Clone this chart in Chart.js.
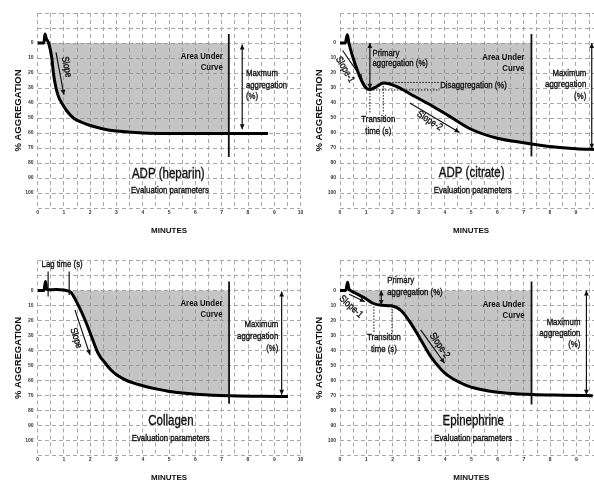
<!DOCTYPE html>
<html>
<head>
<meta charset="utf-8">
<script src="https://cdn.jsdelivr.net/npm/chart.js@4.4.1/dist/chart.umd.min.js"></script>
<style>
  html, body { margin: 0; padding: 0; background: #fff; }
  body { width: 594px; height: 480px; overflow: hidden; position: relative; }
  canvas { position: absolute; }
</style>
</head>
<body>
<canvas id="heparin" width="310" height="240" style="left:0;top:0"></canvas>
<canvas id="citrate" width="310" height="240" style="left:297px;top:0"></canvas>
<canvas id="collagen" width="310" height="250" style="left:0;top:240px"></canvas>
<canvas id="epinephrine" width="310" height="250" style="left:297px;top:240px"></canvas>
<script>
'use strict';

// aggregation curves (minutes / % aggregation)
var minutesHeparin = [0, 0.24, 0.28, 0.33, 0.42, 0.54, 0.6, 0.7, 0.8, 0.92, 1.1, 1.36, 1.7, 2.0, 2.5, 3.0, 4.0, 5.0, 7.3, 8.76];
var aggHeparin     = [0, 0, -6, -3, 0, 10, 20, 30, 36, 40, 45, 50, 53, 55, 57.3, 58.7, 60, 60.3, 60.3, 60.3];

var minutesCitrate = [0, 0.2, 0.28, 0.31, 0.34, 0.5, 0.7, 0.82, 0.99, 1.14, 1.4, 1.65, 2.15, 2.66, 3.42, 4.18, 5.0, 6.0, 7.0, 7.3, 8.0, 9.0, 9.8];
var aggCitrate     = [0, 0, -5.5, -3, 0, 10, 20, 25, 30, 31, 29, 26.7, 28.9, 33.8, 41, 48.9, 57.5, 63.5, 66.5, 67.3, 69, 70.5, 71];

var minutesCollagen = [0, 0.24, 0.3, 0.35, 0.42, 0.7, 1.0, 1.2, 1.29, 1.54, 1.8, 2.05, 2.3, 2.62, 2.8, 3.0, 3.3, 3.63, 4.0, 4.5, 4.96, 6.16, 7.3, 8.5, 9.52];
var aggCollagen     = [0, 0, -6, -1, -0.5, -0.6, -0.3, 0.5, 1.8, 9.6, 19.5, 30.7, 41.8, 49.5, 53.2, 56.2, 59.2, 61.6, 63.5, 65.6, 67.1, 69.3, 70.2, 70.5, 70.7];

var minutesEpi = [0, 0.22, 0.29, 0.34, 0.4, 0.56, 0.94, 1.25, 1.57, 1.95, 2.33, 2.71, 3.09, 3.47, 3.85, 4.1, 4.43, 4.8, 5.19, 6.2, 7.3, 8.5, 9.62];
var aggEpi     = [0, 0, -5.5, -1, 0, 1.5, 5, 8.5, 9.8, 10.2, 13.5, 22.2, 33.3, 44.4, 52.6, 56.6, 60.2, 63.2, 65.3, 68.2, 69.3, 69.8, 70.2];

// area under curve: from start of aggregation up to the cut-off line
var shadeStart = [0.42, 0.34, 1.2, 0.4];
var aucEnd = 7.3;

var xTickLabels = [0, 1, 2, 3, 4, 5, 6, 7, 8, 9, 10];
var yTickLabels = [0, 10, 20, 30, 40, 50, 60, 70, 80, 90, 100];

var FONT = '"Liberation Sans", Arial, sans-serif';
var INK = '#111';
var SQUEEZE = 0.82; // the figure is squashed sideways

function toPoints(xs, ys) {
  return xs.map(function(x, i) { return {x: x, y: ys[i]}; });
}

function arrowHead(ctx, x1, y1, x2, y2) {
  var a = Math.atan2(y2 - y1, x2 - x1), len = 5, w = 2.4;
  ctx.beginPath();
  ctx.moveTo(x2, y2);
  ctx.lineTo(x2 - len * Math.cos(a) + w * Math.sin(a), y2 - len * Math.sin(a) - w * Math.cos(a));
  ctx.lineTo(x2 - len * Math.cos(a) - w * Math.sin(a), y2 - len * Math.sin(a) + w * Math.cos(a));
  ctx.closePath();
  ctx.fill();
}

// text and arrows placed in data units
var notesPlugin = {
  id: 'notes',
  afterDatasetsDraw: function(chart, args, opts) {
    var ctx = chart.ctx, sx = chart.scales.x, sy = chart.scales.y;
    ctx.save();
    ctx.fillStyle = INK;
    ctx.strokeStyle = INK;
    (opts.items || []).forEach(function(it) {
      if (it.kind === 'line') {
        var x1 = sx.getPixelForValue(it.x1), y1 = sy.getPixelForValue(it.y1);
        var x2 = sx.getPixelForValue(it.x2), y2 = sy.getPixelForValue(it.y2);
        ctx.lineWidth = it.width || 1.2;
        ctx.setLineDash(it.dash || []);
        ctx.beginPath();
        ctx.moveTo(x1, y1);
        ctx.lineTo(x2, y2);
        ctx.stroke();
        ctx.setLineDash([]);
        if (it.head === 'end' || it.head === 'both') arrowHead(ctx, x1, y1, x2, y2);
        if (it.head === 'both') arrowHead(ctx, x2, y2, x1, y1);
      } else {
        var px = sx.getPixelForValue(it.x), py = sy.getPixelForValue(it.y);
        ctx.save();
        ctx.translate(px, py);
        if (it.rot) ctx.rotate(it.rot * Math.PI / 180);
        ctx.scale(SQUEEZE, 1);
        ctx.font = (it.bold ? 'bold ' : '') + (it.size || 9.5) + 'px ' + FONT;
        ctx.textAlign = it.align || 'center';
        ctx.textBaseline = 'middle';
        ctx.lineWidth = 0.35;
        it.lines.forEach(function(s, i) {
          ctx.fillText(s, 0, i * (it.lh || 11));
          if (!it.bold) ctx.strokeText(s, 0, i * (it.lh || 11));
        });
        ctx.restore();
      }
    });
    ctx.restore();
  }
};

function makePanel(id, xs, ys, start, cfg) {
  var curve = toPoints(xs, ys);
  var shade = curve.filter(function(p) { return p.x >= start && p.x <= aucEnd; });

  return new Chart(document.getElementById(id), {
    type: 'line',
    data: {
      datasets: [
        {
          data: curve,
          borderColor: '#000',
          borderWidth: 3,
          pointRadius: 0,
          cubicInterpolationMode: 'monotone',
          fill: false
        },
        {
          data: shade,
          borderWidth: 0,
          borderColor: 'rgba(0,0,0,0)',
          backgroundColor: 'rgba(140,140,140,0.5)',
          pointRadius: 0,
          cubicInterpolationMode: 'monotone',
          fill: 'origin',
          order: 1
        }
      ]
    },
    plugins: [notesPlugin],
    options: {
      responsive: false,
      animation: false,
      layout: {padding: cfg.padding},
      plugins: {
        legend: {display: false},
        tooltip: {enabled: false},
        notes: {items: cfg.notes}
      },
      scales: {
        x: {
          type: 'linear',
          min: 0,
          max: 10,
          afterFit: function(s) { s.height = cfg.xH; },
          grid: {color: '#a8a8a8', lineWidth: 1, drawTicks: false},
          border: {display: false, dash: [4, 3]},
          ticks: {
            stepSize: 0.5,
            autoSkip: false,
            maxRotation: 0,
            padding: cfg.xTickPad,
            color: '#333',
            font: {family: FONT, size: 5, weight: 'bold'},
            callback: function(v) { return xTickLabels.indexOf(v) >= 0 ? String(v) : ''; }
          },
          title: {
            display: true,
            text: 'MINUTES',
            color: INK,
            font: {family: FONT, size: 8, weight: 'bold'},
            padding: {top: 0, bottom: cfg.xTitlePad}
          }
        },
        y: {
          type: 'linear',
          reverse: true,
          min: -20,
          max: 110,
          afterFit: function(s) { s.width = cfg.yW; },
          grid: {color: '#a8a8a8', lineWidth: 1, drawTicks: false},
          border: {display: false, dash: [4, 3]},
          ticks: {
            stepSize: 10,
            autoSkip: false,
            padding: 4,
            color: '#333',
            font: {family: FONT, size: 5, weight: 'bold'},
            callback: function(v) { return yTickLabels.indexOf(v) >= 0 ? String(v) : ''; }
          },
          title: {
            display: true,
            text: '% AGGREGATION',
            color: INK,
            font: {family: FONT, size: 9.5, weight: 'bold'},
            padding: {top: cfg.yTitlePad, bottom: 0}
          }
        }
      }
    }
  });
}

makePanel('heparin', minutesHeparin, aggHeparin, shadeStart[0], {
  padding: {left: 0, top: 13, right: 9.4, bottom: 0},
  yW: 37.6, xH: 32, xTickPad: 2, xTitlePad: 4.6, yTitlePad: 12.6,
  notes: [
    {kind: 'line', x1: 0.7, y1: 6.3, x2: 1.0, y2: 34.5, head: 'end'},
    {kind: 'text', x: 1.1, y: 16, rot: 79, lines: ['Slope'], size: 10},
    {kind: 'line', x1: 7.27, y1: -6, x2: 7.27, y2: 76, width: 1.8},
    {kind: 'text', x: 7.04, y: 9, align: 'right', bold: true, lines: ['Area Under', 'Curve']},
    {kind: 'line', x1: 7.78, y1: 1, x2: 7.78, y2: 57.5, head: 'both'},
    {kind: 'text', x: 7.92, y: 20.5, align: 'left', lh: 11.3, lines: ['Maxmum', 'aggregation', '(%)']},
    {kind: 'text', x: 4.97, y: 87.2, size: 14, lines: ['ADP (heparin)']},
    {kind: 'text', x: 5.03, y: 98.3, lines: ['Evaluation parameters']}
  ]
});

makePanel('citrate', minutesCitrate, aggCitrate, shadeStart[1], {
  padding: {left: 0, top: 13, right: 4, bottom: 0},
  yW: 43, xH: 32, xTickPad: 2, xTitlePad: 4.6, yTitlePad: 17,
  notes: [
    {kind: 'line', x1: 0.1, y1: 5, x2: 0.85, y2: 24, head: 'end'},
    {kind: 'text', x: 0.19, y: 17.8, rot: 60, lines: ['Slope-1'], size: 10},
    {kind: 'line', x1: 1.14, y1: 0, x2: 1.14, y2: 30.5, head: 'both'},
    {kind: 'text', x: 1.24, y: 6.7, align: 'left', lh: 10.5, lines: ['Primary', 'aggregation (%)']},
    {kind: 'line', x1: 1.65, y1: 26.3, x2: 3.8, y2: 26.3, width: 1, dash: [1.5, 1.5]},
    {kind: 'line', x1: 1.14, y1: 31.3, x2: 3.8, y2: 31.3, width: 1, dash: [1.5, 1.5]},
    {kind: 'line', x1: 1.14, y1: 31.3, x2: 1.14, y2: 47, width: 1, dash: [1.5, 1.5]},
    {kind: 'line', x1: 1.65, y1: 26.7, x2: 1.65, y2: 47, width: 1, dash: [1.5, 1.5]},
    {kind: 'text', x: 3.82, y: 28.5, align: 'left', lines: ['Disaggregation (%)']},
    {kind: 'text', x: 1.46, y: 51, lh: 11.7, lines: ['Transition', 'time (s)']},
    {kind: 'line', x1: 2.66, y1: 40, x2: 4.56, y2: 59.6, head: 'end'},
    {kind: 'text', x: 3.42, y: 51.9, rot: 33, lines: ['Slope-2'], size: 10},
    {kind: 'line', x1: 7.3, y1: -6, x2: 7.3, y2: 75.6, width: 1.8},
    {kind: 'text', x: 7.03, y: 9.4, align: 'right', bold: true, lines: ['Area Under', 'Curve']},
    {kind: 'line', x1: 9.6, y1: 0, x2: 9.6, y2: 70.5, head: 'both'},
    {kind: 'text', x: 9.39, y: 20, align: 'right', lh: 11.7, lines: ['Maximum', 'aggregation', '(%)']},
    {kind: 'text', x: 5.02, y: 86.5, size: 14, lines: ['ADP (citrate)']},
    {kind: 'text', x: 5.06, y: 98.3, lines: ['Evaluation parameters']}
  ]
});

makePanel('collagen', minutesCollagen, aggCollagen, shadeStart[2], {
  padding: {left: 0, top: 20.5, right: 9.4, bottom: 0},
  yW: 37.6, xH: 34.5, xTickPad: 1.5, xTitlePad: 7.6, yTitlePad: 12.6,
  notes: [
    {kind: 'text', x: 0.15, y: -17.1, align: 'left', lines: ['Lag time (s)']},
    {kind: 'line', x1: 0.4, y1: -12.7, x2: 0.4, y2: 4},
    {kind: 'line', x1: 1.2, y1: -12.7, x2: 1.2, y2: 3},
    {kind: 'line', x1: 1.42, y1: 12.9, x2: 1.99, y2: 42.9, head: 'end'},
    {kind: 'text', x: 1.46, y: 31.7, rot: 72, lines: ['Slope'], size: 10},
    {kind: 'line', x1: 7.28, y1: -6, x2: 7.28, y2: 75.5, width: 1.8},
    {kind: 'text', x: 7.03, y: 8.9, align: 'right', bold: true, lines: ['Area Under', 'Curve']},
    {kind: 'line', x1: 9.28, y1: 0.7, x2: 9.28, y2: 69.5, head: 'both'},
    {kind: 'text', x: 9.15, y: 22.9, align: 'right', lh: 11.7, lines: ['Maximum', 'aggregation', '(%)']},
    {kind: 'text', x: 5.07, y: 87.3, size: 14, lines: ['Collagen']},
    {kind: 'text', x: 5.06, y: 98.4, lines: ['Evaluation parameters']}
  ]
});

makePanel('epinephrine', minutesEpi, aggEpi, shadeStart[3], {
  padding: {left: 0, top: 20.5, right: 4, bottom: 0},
  yW: 43, xH: 34.5, xTickPad: 1.5, xTitlePad: 7.6, yTitlePad: 17,
  notes: [
    {kind: 'line', x1: 0.35, y1: 2.5, x2: 0.95, y2: 7.5, head: 'end'},
    {kind: 'text', x: 0.42, y: 10.8, rot: 42, lines: ['Slope-1'], size: 10},
    {kind: 'line', x1: 1.57, y1: 0, x2: 1.57, y2: 9.6, head: 'both'},
    {kind: 'text', x: 1.8, y: -6.7, align: 'left', lh: 11.7, lines: ['Primary', 'aggregation (%)']},
    {kind: 'line', x1: 1.29, y1: 8.6, x2: 1.29, y2: 27.8, width: 1, dash: [1.5, 1.5]},
    {kind: 'line', x1: 1.98, y1: 10.2, x2: 1.98, y2: 27.8, width: 1, dash: [1.5, 1.5]},
    {kind: 'text', x: 1.67, y: 31.1, lh: 12.3, lines: ['Transition', 'time (s)']},
    {kind: 'line', x1: 3.07, y1: 26.2, x2: 3.98, y2: 48.5, head: 'end'},
    {kind: 'text', x: 3.79, y: 36.7, rot: 55, lines: ['Slope-2'], size: 10},
    {kind: 'line', x1: 7.29, y1: -6, x2: 7.29, y2: 76, width: 1.8},
    {kind: 'text', x: 7.03, y: 9, align: 'right', bold: true, lines: ['Area Under', 'Curve']},
    {kind: 'line', x1: 9.38, y1: 0, x2: 9.38, y2: 69.5, head: 'both'},
    {kind: 'text', x: 9.15, y: 21.1, align: 'right', lh: 11.3, lines: ['Maximum', 'aggregation', '(%)']},
    {kind: 'text', x: 5.07, y: 87.3, size: 14, lines: ['Epinephrine']},
    {kind: 'text', x: 5.07, y: 98.9, lines: ['Evaluation parameters']}
  ]
});
</script>
</body>
</html>
